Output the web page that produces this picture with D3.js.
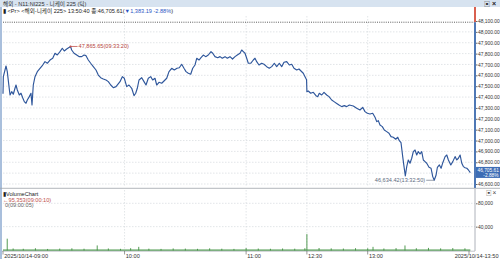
<!DOCTYPE html>
<html>
<head>
<meta charset="utf-8">
<script src="https://cdn.jsdelivr.net/npm/d3@7"></script>
<style>
  body { margin: 0; background: #fff; }
  svg { display: block; font-family: "Liberation Sans", "Noto Sans CJK KR", sans-serif; }
</style>
</head>
<body>
<svg class="graph" width="500" height="259"></svg>
<script>
// ---- data ----
var priceTimes = [
  "09:00:00","09:00:10","09:01:29","09:02:07","09:02:58","09:03:28","09:04:18","09:05:05","09:05:55","09:06:25",
  "09:07:04","09:08:03","09:08:53","09:09:43","09:10:31","09:11:21","09:12:00","09:12:59","09:13:49","09:14:19",
  "09:14:57","09:15:48","09:16:56","09:18:16","09:19:36","09:20:44","09:21:52","09:23:12","09:24:32","09:25:40",
  "09:26:48","09:28:08","09:29:16","09:30:15","09:31:26","09:33:20","09:33:54","09:35:03","09:36:23","09:37:40",
  "09:38:51","09:39:59","09:40:58","09:42:06","09:43:17","09:44:34","09:45:54","09:47:02","09:48:13","09:49:30",
  "09:50:50","09:51:59","09:53:10","09:54:27","09:55:47","09:57:45","09:58:53","09:59:52","10:01:04","10:02:11",
  "10:03:32","10:04:40","10:05:30","10:06:17","10:07:08","10:08:28","10:09:36","10:10:35","10:11:43","10:12:54",
  "10:13:53","10:15:01","10:15:52","10:17:00","10:18:20","10:19:28","10:20:48","10:21:56","10:23:16","10:24:33",
  "10:25:53","10:27:01","10:28:12","10:29:20","10:30:20","10:31:28","10:32:39","10:33:38","10:34:46","10:35:37",
  "10:36:45","10:37:44","10:38:52","10:40:03","10:41:20","10:42:40","10:43:31","10:44:38","10:45:58","10:47:07",
  "10:48:14","10:49:35","10:50:43","10:52:02","10:53:17","10:54:31","10:55:39","10:56:59","10:57:49","10:58:37",
  "10:59:27","11:00:17","11:01:05","11:02:16","11:03:33","11:04:23","11:05:13","11:06:21","11:07:41","11:08:49",
  "11:10:10","11:11:26","11:12:38","11:13:55","11:15:06","11:16:23","11:17:34","11:18:42","11:20:02","11:21:19",
  "11:22:30","11:23:38","11:24:58","11:26:06","11:27:05","11:28:13","11:29:04","11:29:50",
  "12:30:00","12:30:41","12:31:52","12:33:10","12:34:29","12:35:20","12:36:07","12:37:18","12:38:26","12:39:46",
  "12:40:55","12:42:14","12:43:23","12:44:43","12:45:51","12:47:11","12:48:28","12:49:39","12:50:56","12:52:54",
  "12:54:35","12:56:12","12:57:32","12:58:40","12:59:49","13:01:08","13:02:28","13:03:37","13:04:27","13:05:14",
  "13:06:05","13:07:13","13:08:12","13:09:23","13:10:31","13:11:31","13:12:38","13:13:50","13:14:49","13:15:37",
  "13:16:27","13:17:17","13:17:56","13:18:34","13:19:16","13:20:03","13:20:53","13:21:44","13:22:31","13:23:22",
  "13:24:12","13:24:59","13:25:50","13:26:40","13:27:28","13:28:18","13:29:08","13:30:16","13:31:16","13:32:06",
  "13:32:50","13:33:46","13:34:24","13:35:23","13:36:14","13:37:04","13:38:12","13:39:02","13:39:50","13:41:01",
  "13:42:00","13:43:08","13:43:59","13:44:46","13:45:36","13:46:26","13:47:14","13:48:04","13:48:55","13:49:42",
  "13:50:40"
];
var priceValues = [
  47430,47588,47686,47634,47496,47419,47450,47426,47481,47511,
  47465,47419,47435,47394,47358,47343,47373,47404,47435,47327,
  47511,47588,47634,47665,47695,47726,47711,47741,47757,47803,
  47787,47818,47849,47824,47842,47865.65,47833,47803,47787,47772,
  47772,47787,47781,47741,47711,47680,47649,47603,47578,47566,
  47557,47542,47511,47486,47496,47542,47588,47573,47496,47511,
  47481,47413,47435,47481,47557,47578,47542,47511,47573,47588,
  47557,47573,47511,47536,47527,47548,47573,47634,47665,47649,
  47665,47670,47702,47665,47634,47619,47610,47665,47695,47757,
  47741,47762,47787,47772,47787,47818,47803,47772,47762,47772,
  47757,47772,47757,47772,47750,47772,47787,47803,47833,47818,
  47803,47757,47711,47711,47741,47757,47726,47695,47711,47702,
  47680,47665,47680,47711,47680,47711,47680,47720,47726,47695,
  47702,47665,47649,47658,47640,47619,47588,47560,
  47450,47456,47435,47444,47413,47404,47435,47419,47444,47419,
  47404,47373,47358,47341,47327,47312,47321,47312,47327,47318,
  47297,47281,47306,47266,47251,47244,47251,47214,47174,47183,
  47143,47128,47097,47082,47067,47036,47030,47012,47030,46999,
  46980,46852,46760,46674,46760,46821,46791,46837,46898,46913,
  46867,46898,46876,46898,46821,46806,46791,46754,46745,46668,
  46634.42,46683,46754,46775,46745,46796,46852,46867,46821,46775,
  46806,46852,46821,46837,46867,46791,46760,46750,46745,46729,
  46705.61
];
var volTimes = [
  "09:02:05","09:05:00","09:10:00","09:16:00","09:22:00","09:28:00","09:34:00","09:40:00","09:46:30","09:52:00",
  "09:58:00","10:03:00","10:07:00","10:12:00","10:18:00","10:24:00","10:30:00","10:36:00","10:42:00","10:48:00",
  "10:54:00","11:00:00","11:06:00","11:12:00","11:18:00","11:24:00","11:29:00","12:30:00","12:36:00","12:42:00",
  "12:48:00","12:54:00","13:00:00","13:02:38","13:08:00","13:14:00","13:18:24","13:24:00","13:30:00","13:36:00",
  "13:42:00","13:48:00"
];
var volValues = [
  19400,2600,2100,3000,1800,2400,2900,2200,7800,2600,
  2000,3100,5400,2300,1900,2700,2400,2000,2800,2200,
  1900,3300,2500,2100,2600,2300,3000,27200,3400,2800,
  2500,3100,2900,5400,2600,3200,7800,3000,3600,2800,
  3300,2900
];
var timeTicks = ["09:00","10:00","11:00","12:30","13:00","13:50"];
var timeTickLabels = ["2025/10/14-09:00","10:00","11:00","12:30","13:00","2025/10/14-13:50"];
var priceTicks = [46600,46700,46800,46900,47000,47100,47200,47300,47400,47500,47600,47700,47800,47900,48000,48100];
var volTicks = [40000, 80000];
var lastTime = "13:50:40", lastPrice = 46705.61, change = -1383.19, changePct = -2.88;
var prevClose = lastPrice - change;
var volMax = 95353, volMaxTime = "09:00:10", volMin = 0, volMinTime = "09:00:05";

// ---- helpers ----
function clockMin(s) {
  var p = s.split(":").map(Number);
  return (p[0] - 9) * 60 + p[1] + (p[2] || 0) / 60;
}
var fmt2 = d3.format(",.2f");

var svg = d3.select(".graph");
var W = 500, H = 259, axisX = 475;

// trading session with lunch gap squeezed out
var x = d3.scaleLinear().domain([0, 150, 210, 290]).range([3, 306.9, 306.9, 469]);
var y = d3.scaleLinear().domain([46600, 48100]).range([184, 21]);
var yv = d3.scaleLinear().domain([0, 80000]).range([250, 203.3]);

var prices = priceTimes.map(function (t, i) { return {t: clockMin(t), v: priceValues[i], s: t}; });
var vols = volTimes.map(function (t, i) { return {t: clockMin(t), v: volValues[i]}; });

// ---- frame ----
svg.append("rect").attr("x", 0).attr("y", 0).attr("width", W).attr("height", 7).attr("fill", "#d7e3f0");
svg.append("text").attr("x", 3).attr("y", 5.6).attr("font-size", 5.6).attr("fill", "#333")
  .text("해외 - N11:NI225 - 니케이 225 (틱)");
svg.append("text").attr("x", 484).attr("y", 5.8).attr("font-size", 6).attr("fill", "#333").text("▣");
svg.append("text").attr("x", 492).attr("y", 6).attr("font-size", 7).attr("font-weight", "bold").attr("fill", "#222").text("×");
svg.append("rect").attr("x", 0).attr("y", 7).attr("width", 2).attr("height", H - 7).attr("fill", "#a9bfdc");

// legend
var leg = svg.append("text").attr("x", 3).attr("y", 13.3).attr("font-size", 5.6).attr("fill", "#222");
leg.append("tspan").text("▮ <Pr> <해외-니케이 225> " + lastTime + " 종:" + fmt2(lastPrice) + "(");
leg.append("tspan").attr("fill", "#2a55c4").text("▼" + fmt2(-change) + "  " + changePct.toFixed(2) + "%");
leg.append("tspan").text(")");

// ---- price pane grid ----
var gPrice = svg.append("g");
gPrice.selectAll("line.hg").data(priceTicks.slice(0, -1)).enter().append("line")
  .attr("x1", 3).attr("x2", axisX).attr("y1", function (d) { return y(d); }).attr("y2", function (d) { return y(d); })
  .attr("stroke", "#cfd3d8").attr("stroke-width", 0.6).attr("stroke-dasharray", "1.5,1.5");
var midTicks = timeTicks.slice(1, -1);
gPrice.selectAll("line.vg").data(midTicks).enter().append("line")
  .attr("x1", function (d) { return x(clockMin(d)); }).attr("x2", function (d) { return x(clockMin(d)); })
  .attr("y1", 16).attr("y2", 187)
  .attr("stroke", "#cfd3d8").attr("stroke-width", 0.6).attr("stroke-dasharray", "1.5,1.5");
// previous close
gPrice.append("line").attr("x1", 3).attr("x2", axisX).attr("y1", y(prevClose)).attr("y2", y(prevClose))
  .attr("stroke", "#333").attr("stroke-width", 0.8).attr("stroke-dasharray", "1,1.2");

// price line
var line = d3.line().x(function (d) { return x(d.t); }).y(function (d) { return y(d.v); });
gPrice.append("path").datum(prices).attr("d", line)
  .attr("fill", "none").attr("stroke", "#2e569b").attr("stroke-width", 1.15).attr("stroke-linejoin", "round");

// max / min annotations
var iMax = d3.maxIndex(prices, function (d) { return d.v; });
var iMin = d3.minIndex(prices, function (d) { return d.v; });
var pMax = prices[iMax], pMin = prices[iMin];
gPrice.append("line").attr("x1", x(pMax.t)).attr("x2", x(pMax.t) + 7).attr("y1", y(pMax.v)).attr("y2", y(pMax.v))
  .attr("stroke", "#c0504d").attr("stroke-width", 0.8);
gPrice.append("circle").attr("cx", x(pMax.t)).attr("cy", y(pMax.v)).attr("r", 1).attr("fill", "#c0504d");
gPrice.append("text").attr("x", x(pMax.t) + 8).attr("y", y(pMax.v) + 2).attr("font-size", 5.6).attr("fill", "#b5443c")
  .text(fmt2(pMax.v) + "(" + pMax.s + ")");
gPrice.append("line").attr("x1", x(pMin.t) - 8).attr("x2", x(pMin.t)).attr("y1", y(pMin.v)).attr("y2", y(pMin.v))
  .attr("stroke", "#7a8596").attr("stroke-width", 0.8);
gPrice.append("text").attr("x", x(pMin.t) - 9).attr("y", y(pMin.v) + 2).attr("text-anchor", "end")
  .attr("font-size", 5.6).attr("fill", "#5d6b80").text(fmt2(pMin.v) + "(" + pMin.s + ")");

// right price axis
gPrice.append("line").attr("x1", axisX).attr("x2", axisX).attr("y1", 7).attr("y2", y(prevClose))
  .attr("stroke", "#d9604f").attr("stroke-width", 2);
gPrice.append("line").attr("x1", axisX).attr("x2", axisX).attr("y1", y(prevClose)).attr("y2", 188)
  .attr("stroke", "#4f78b5").attr("stroke-width", 2);
var yl = y(lastPrice);
var pAxis = gPrice.append("g").attr("transform", "translate(" + (axisX + 1) + ",0)")
  .call(d3.axisRight(y).tickValues(priceTicks.filter(function (d) { return Math.abs(y(d) - yl) > 6; }))
    .tickFormat(fmt2).tickSize(1.5).tickPadding(0.5));
pAxis.select(".domain").remove();
pAxis.selectAll("line").attr("stroke", "#666");
pAxis.selectAll("text").attr("font-size", 4.9).attr("fill", "#333").attr("font-family", "Liberation Sans, sans-serif");

// current price box
gPrice.append("rect").attr("x", axisX + 1).attr("y", yl - 5.6).attr("width", W - axisX - 1).attr("height", 11).attr("fill", "#3d6db5");
gPrice.append("text").attr("x", axisX + 2.5).attr("y", yl - 0.6).attr("font-size", 4.8).attr("fill", "#fff").text(fmt2(lastPrice));
gPrice.append("text").attr("x", W - 1.5).attr("y", yl + 4.4).attr("text-anchor", "end").attr("font-size", 4.8).attr("fill", "#fff")
  .text(changePct.toFixed(2) + "%");

// ---- pane separator ----
svg.append("line").attr("x1", 0).attr("x2", W).attr("y1", 188.3).attr("y2", 188.3).attr("stroke", "#a0a4aa").attr("stroke-width", 0.8);
svg.append("text").attr("x", 486).attr("y", 194.5).attr("font-size", 5.5).attr("fill", "#444").text("▣");
svg.append("text").attr("x", 492.5).attr("y", 195).attr("font-size", 6.5).attr("fill", "#444").text("×");

// ---- volume pane ----
var gVol = svg.append("g");
gVol.selectAll("line.hg").data(volTicks).enter().append("line")
  .attr("x1", 3).attr("x2", axisX).attr("y1", function (d) { return yv(d); }).attr("y2", function (d) { return yv(d); })
  .attr("stroke", "#cfd3d8").attr("stroke-width", 0.6).attr("stroke-dasharray", "1.5,1.5");
gVol.selectAll("line.vg").data(midTicks).enter().append("line")
  .attr("x1", function (d) { return x(clockMin(d)); }).attr("x2", function (d) { return x(clockMin(d)); })
  .attr("y1", 190).attr("y2", 250)
  .attr("stroke", "#cfd3d8").attr("stroke-width", 0.6).attr("stroke-dasharray", "1.5,1.5");

gVol.append("text").attr("x", 3).attr("y", 195.5).attr("font-size", 5.6).attr("fill", "#222").text("▮VolumeChart");
gVol.append("text").attr("x", 3).attr("y", 201.5).attr("font-size", 5.6).attr("fill", "#c0504d")
  .text("←" + d3.format(",")(volMax) + "(" + volMaxTime + ")");
gVol.append("text").attr("x", 5).attr("y", 207).attr("font-size", 5.6).attr("fill", "#666")
  .text(volMin + "(" + volMinTime + ")");

// baseline + bars
gVol.append("line").attr("x1", 3).attr("x2", x(clockMin(lastTime))).attr("y1", 250.2).attr("y2", 250.2)
  .attr("stroke", "#4d9a4d").attr("stroke-width", 1.2);
gVol.selectAll("line.vb").data(vols).enter().append("line")
  .attr("x1", function (d) { return x(d.t); }).attr("x2", function (d) { return x(d.t); })
  .attr("y1", yv(0) + 0.6).attr("y2", function (d) { return yv(d.v); })
  .attr("stroke", "#3f8f3f").attr("stroke-width", 0.9);

// volume axis
gVol.append("line").attr("x1", axisX).attr("x2", axisX).attr("y1", 189).attr("y2", 251)
  .attr("stroke", "#9aa0a8").attr("stroke-width", 0.8);
var vAxis = gVol.append("g").attr("transform", "translate(" + (axisX + 1) + ",0)")
  .call(d3.axisRight(yv).tickValues(volTicks).tickFormat(d3.format(",")).tickSize(1.5).tickPadding(0.5));
vAxis.select(".domain").remove();
vAxis.selectAll("line").attr("stroke", "#666");
vAxis.selectAll("text").attr("font-size", 4.9).attr("fill", "#333").attr("font-family", "Liberation Sans, sans-serif");

// ---- time axis ----
svg.append("line").attr("x1", 2).attr("x2", axisX).attr("y1", 251.2).attr("y2", 251.2).attr("stroke", "#9aa0a8").attr("stroke-width", 0.6);
var gx = svg.append("g");
timeTicks.forEach(function (t, i) {
  var px = x(clockMin(t));
  gx.append("line").attr("x1", px).attr("x2", px).attr("y1", 251).attr("y2", 254.5).attr("stroke", "#555").attr("stroke-width", 0.6);
  var last = i === timeTicks.length - 1;
  gx.append("text").attr("x", last ? 498.5 : px + 1.2).attr("y", 258)
    .attr("text-anchor", last ? "end" : "start")
    .attr("font-size", 5.6).attr("fill", "#333").text(timeTickLabels[i]);
});
</script>
</body>
</html>
